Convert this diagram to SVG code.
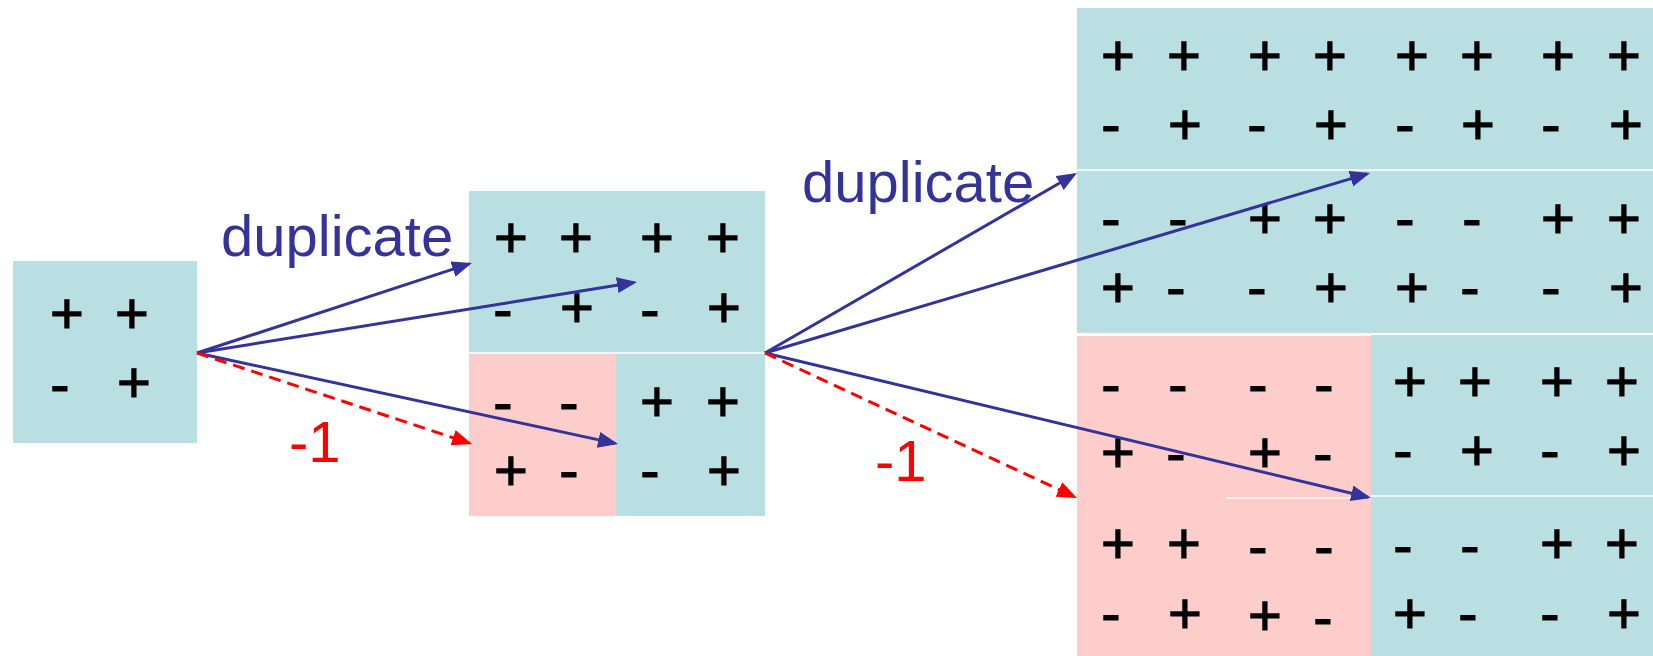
<svg xmlns="http://www.w3.org/2000/svg" width="1653" height="656" viewBox="0 0 1653 656">
<style>
.t{fill:#BADFE2}
.p{fill:#FDCDCC}
.s{font-family:"Liberation Sans",Arial,sans-serif;font-size:58px;fill:#000;stroke:#000;stroke-width:1.1;text-anchor:middle}
.sep{stroke:#fff;stroke-width:1.5}
.lb{font-family:"Liberation Sans",Arial,sans-serif;font-size:58px}
.blue{stroke:#333399;stroke-width:3;fill:none}
.red{stroke:#FF0000;stroke-width:3;fill:none;stroke-dasharray:12 7}
</style>
<defs>
<marker id="ab" markerUnits="userSpaceOnUse" markerWidth="22" markerHeight="18" refX="17" refY="8" orient="auto"><path d="M0,0 L20,8 L0,16 z" fill="#333399"/></marker>
<marker id="ar" markerUnits="userSpaceOnUse" markerWidth="22" markerHeight="18" refX="17" refY="8" orient="auto"><path d="M0,0 L20,8 L0,16 z" fill="#FF0000"/></marker>
</defs>
<rect width="1653" height="656" fill="#fff"/>

<g id="m2">
<rect class="t" x="13" y="261" width="184" height="182"/>
<text class="s" x="67" y="333">+</text><text class="s" x="132" y="333">+</text>
<text class="s" x="60" y="404">-</text><text class="s" x="134" y="402">+</text>
</g>

<g id="m4">
<rect class="t" x="469" y="191" width="296" height="162"/>
<rect class="p" x="469" y="353" width="147" height="163"/>
<rect class="t" x="616" y="353" width="149" height="163"/>
<line class="sep" x1="469" y1="353" x2="765" y2="353"/>
<text class="s" x="511" y="257">+</text><text class="s" x="576" y="257">+</text><text class="s" x="657" y="257">+</text><text class="s" x="723" y="257">+</text>
<text class="s" x="503" y="329">-</text><text class="s" x="577" y="327">+</text><text class="s" x="650" y="329">-</text><text class="s" x="724" y="327">+</text>
<text class="s" x="503" y="422">-</text><text class="s" x="569" y="422">-</text><text class="s" x="657" y="421">+</text><text class="s" x="723" y="421">+</text>
<text class="s" x="511" y="490">+</text><text class="s" x="569" y="490">-</text><text class="s" x="650" y="490">-</text><text class="s" x="724" y="490">+</text>
</g>

<g id="m8">
<rect class="t" x="1077" y="8" width="576" height="325"/>
<line class="sep" x1="1077" y1="170" x2="1653" y2="170"/>
<rect class="p" x="1077" y="336" width="294" height="320"/>
<rect class="t" x="1371" y="335" width="282" height="321"/>
<line class="sep" x1="1371" y1="496" x2="1653" y2="496"/>
<line class="sep" x1="1226" y1="498" x2="1371" y2="498"/>
<g>
<text class="s" x="1118" y="75">+</text><text class="s" x="1184" y="75">+</text><text class="s" x="1265" y="75">+</text><text class="s" x="1330" y="75">+</text><text class="s" x="1412" y="75">+</text><text class="s" x="1477" y="75">+</text><text class="s" x="1558" y="75">+</text><text class="s" x="1624" y="75">+</text>
<text class="s" x="1111" y="144">-</text><text class="s" x="1185" y="144">+</text><text class="s" x="1257" y="144">-</text><text class="s" x="1331" y="144">+</text><text class="s" x="1405" y="144">-</text><text class="s" x="1478" y="144">+</text><text class="s" x="1551" y="144">-</text><text class="s" x="1626" y="144">+</text>
<text class="s" x="1111" y="238">-</text><text class="s" x="1178" y="238">-</text><text class="s" x="1265" y="238">+</text><text class="s" x="1330" y="238">+</text><text class="s" x="1405" y="238">-</text><text class="s" x="1472" y="238">-</text><text class="s" x="1558" y="238">+</text><text class="s" x="1624" y="238">+</text>
<text class="s" x="1118" y="307">+</text><text class="s" x="1176" y="307">-</text><text class="s" x="1257" y="307">-</text><text class="s" x="1331" y="307">+</text><text class="s" x="1412" y="307">+</text><text class="s" x="1470" y="307">-</text><text class="s" x="1551" y="307">-</text><text class="s" x="1626" y="307">+</text>
</g>
<g>
<text class="s" x="1111" y="404">-</text><text class="s" x="1178" y="404">-</text><text class="s" x="1258" y="404">-</text><text class="s" x="1324" y="404">-</text><text class="s" x="1410" y="401">+</text><text class="s" x="1475" y="401">+</text><text class="s" x="1557" y="401">+</text><text class="s" x="1622" y="401">+</text>
<text class="s" x="1118" y="472">+</text><text class="s" x="1176" y="473">-</text><text class="s" x="1265" y="472">+</text><text class="s" x="1323" y="473">-</text><text class="s" x="1403" y="470">-</text><text class="s" x="1477" y="470">+</text><text class="s" x="1550" y="470">-</text><text class="s" x="1624" y="470">+</text>
<text class="s" x="1118" y="563">+</text><text class="s" x="1184" y="563">+</text><text class="s" x="1258" y="566">-</text><text class="s" x="1324" y="566">-</text><text class="s" x="1403" y="565">-</text><text class="s" x="1470" y="565">-</text><text class="s" x="1557" y="563">+</text><text class="s" x="1622" y="563">+</text>
<text class="s" x="1111" y="633">-</text><text class="s" x="1185" y="633">+</text><text class="s" x="1265" y="635">+</text><text class="s" x="1323" y="637">-</text><text class="s" x="1410" y="633">+</text><text class="s" x="1468" y="633">-</text><text class="s" x="1550" y="633">-</text><text class="s" x="1624" y="633">+</text>
</g>
</g>

<g id="labels">
<text class="lb" x="221" y="256" fill="#333399">duplicate</text>
<text class="lb" x="802" y="202" fill="#333399">duplicate</text>
<text class="lb" x="289" y="462" fill="#FF0000">-1</text>
<text class="lb" x="875" y="481" fill="#FF0000">-1</text>
</g>

<g id="connectors">
<line class="blue" x1="197" y1="353" x2="469.1" y2="263.9" marker-end="url(#ab)"/>
<line class="blue" x1="197" y1="353" x2="634" y2="282.5" marker-end="url(#ab)"/>
<line class="blue" x1="197" y1="353" x2="615.1" y2="443.4" marker-end="url(#ab)"/>
<line class="red" x1="197" y1="353" x2="469.2" y2="443.1" marker-end="url(#ar)"/>
<line class="blue" x1="765" y1="353" x2="1074.4" y2="174.5" marker-end="url(#ab)"/>
<line class="blue" x1="765" y1="353" x2="1367.1" y2="173.9" marker-end="url(#ab)"/>
<line class="blue" x1="765" y1="353" x2="1368.1" y2="497.3" marker-end="url(#ab)"/>
<line class="red" x1="765" y1="353" x2="1074.3" y2="496.7" marker-end="url(#ar)"/>
</g>
</svg>
